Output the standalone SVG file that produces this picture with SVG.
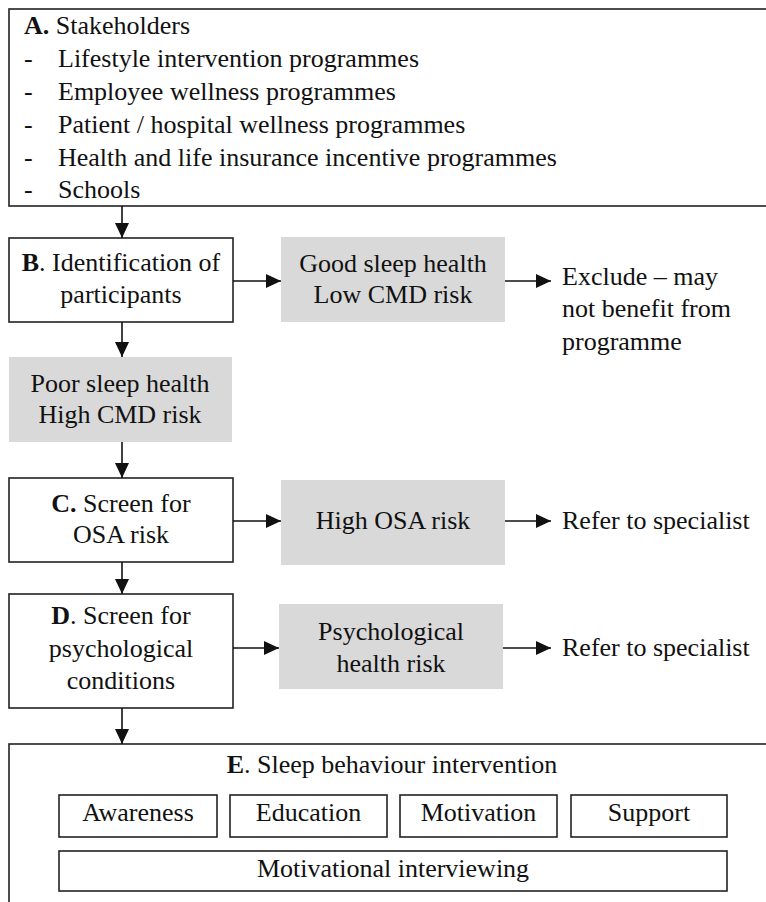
<svg xmlns="http://www.w3.org/2000/svg" width="766" height="902" viewBox="0 0 766 902">
<defs>
<style>
text{font-family:"Liberation Serif","Times New Roman",serif;font-size:26px;fill:#111}
.c{text-anchor:middle}
.b{font-weight:bold}
.box{fill:#fff;stroke:#222;stroke-width:1.6}
.grey{fill:#d9d9d9;stroke:none}
.con{stroke:#111;stroke-width:1.6;fill:none;marker-end:url(#ah)}
</style>
<marker id="ah" markerUnits="userSpaceOnUse" markerWidth="15" markerHeight="14" refX="15" refY="7" orient="auto">
<path d="M0,0 L15,7 L0,14 z" fill="#111"/>
</marker>
</defs>
<rect width="766" height="902" fill="#fff"/>

<g id="nodeA">
<rect class="box" x="9" y="9" width="770" height="197"/>
<text x="24" y="34"><tspan class="b">A.</tspan> Stakeholders</text>
<text x="24" y="67">-</text><text x="58" y="67">Lifestyle intervention programmes</text>
<text x="24" y="100">-</text><text x="58" y="100">Employee wellness programmes</text>
<text x="24" y="133">-</text><text x="58" y="133">Patient / hospital wellness programmes</text>
<text x="24" y="166">-</text><text x="58" y="166">Health and life insurance incentive programmes</text>
<text x="24" y="198">-</text><text x="58" y="198">Schools</text>
</g>

<g id="nodeB">
<rect class="box" x="9" y="238" width="224" height="84"/>
<text class="c" x="121" y="271"><tspan class="b">B</tspan>. Identification of</text>
<text class="c" x="121" y="303">participants</text>
</g>

<g id="nodeGood">
<rect class="grey" x="281" y="237" width="224" height="85"/>
<text class="c" x="393" y="272">Good sleep health</text>
<text class="c" x="393" y="303">Low CMD risk</text>
</g>

<g id="nodeExclude">
<text x="562" y="285">Exclude – may</text>
<text x="562" y="317">not benefit from</text>
<text x="562" y="350">programme</text>
</g>

<g id="nodePoor">
<rect class="grey" x="9" y="357" width="223" height="85"/>
<text class="c" x="120" y="392">Poor sleep health</text>
<text class="c" x="120" y="423">High CMD risk</text>
</g>

<g id="nodeC">
<rect class="box" x="9" y="478" width="224" height="84"/>
<text class="c" x="121" y="512"><tspan class="b">C.</tspan> Screen for</text>
<text class="c" x="121" y="543">OSA risk</text>
</g>

<g id="nodeOSA">
<rect class="grey" x="281" y="480" width="224" height="85"/>
<text class="c" x="393" y="529">High OSA risk</text>
</g>

<g id="nodeRefer1">
<text x="562" y="529">Refer to specialist</text>
</g>

<g id="nodeD">
<rect class="box" x="9" y="594" width="224" height="114"/>
<text class="c" x="121" y="624"><tspan class="b">D</tspan>. Screen for</text>
<text class="c" x="121" y="657">psychological</text>
<text class="c" x="121" y="689">conditions</text>
</g>

<g id="nodePsych">
<rect class="grey" x="279" y="604" width="224" height="85"/>
<text class="c" x="391" y="640">Psychological</text>
<text class="c" x="391" y="672">health risk</text>
</g>

<g id="nodeRefer2">
<text x="562" y="656">Refer to specialist</text>
</g>

<g id="nodeE">
<rect class="box" x="9" y="744" width="770" height="170"/>
<text class="c" x="392" y="773"><tspan class="b">E</tspan>. Sleep behaviour intervention</text>
<rect class="box" x="59" y="795" width="158" height="42"/>
<text class="c" x="138" y="821">Awareness</text>
<rect class="box" x="230" y="795" width="157" height="42"/>
<text class="c" x="308.5" y="821">Education</text>
<rect class="box" x="400" y="795" width="157" height="42"/>
<text class="c" x="478.5" y="821">Motivation</text>
<rect class="box" x="571" y="795" width="156" height="42"/>
<text class="c" x="649" y="821">Support</text>
<rect class="box" x="59" y="851" width="668" height="40"/>
<text class="c" x="393" y="877">Motivational interviewing</text>
</g>

<g id="connectors">
<line class="con" x1="122" y1="206" x2="122" y2="238"/>
<line class="con" x1="233" y1="281" x2="281" y2="281"/>
<line class="con" x1="505" y1="281" x2="551" y2="281"/>
<line class="con" x1="122" y1="322" x2="122" y2="357"/>
<line class="con" x1="122" y1="442" x2="122" y2="478"/>
<line class="con" x1="233" y1="521" x2="281" y2="521"/>
<line class="con" x1="505" y1="521" x2="551" y2="521"/>
<line class="con" x1="122" y1="562" x2="122" y2="594"/>
<line class="con" x1="233" y1="648" x2="279" y2="648"/>
<line class="con" x1="503" y1="648" x2="551" y2="648"/>
<line class="con" x1="122" y1="708" x2="122" y2="744"/>
</g>
</svg>
